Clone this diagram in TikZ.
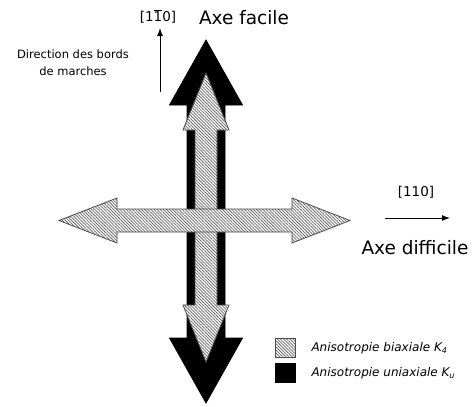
\documentclass[tikz,border=0pt]{standalone}
\usepackage{fontspec}
\setmainfont{DejaVu Sans}
\usetikzlibrary{arrows.meta,patterns.meta}

% double arrow along y, centred on the origin of the current scope
% #1 style, #2 half length, #3 half shaft, #4 half head, #5 head length
\newcommand{\dblarrow}[5]{%
  \draw[#1] (0,-#2) -- (#4,-#2+#5) -- (#3,-#2+#5) -- (#3,#2-#5) -- (#4,#2-#5)
    -- (0,#2) -- (-#4,#2-#5) -- (-#3,#2-#5) -- (-#3,-#2+#5) -- (-#4,-#2+#5) -- cycle;}
\newcommand{\barone}{$\overline{\mbox{1}}$}

\tikzset{
  uniax/.style={fill=black,draw=black,line width=0.8pt,line join=miter},
  biax/.style={draw=black!70,line width=0.8pt,preaction={fill=white},
    pattern={Lines[angle=-45,distance=2.2pt,line width=0.75pt]},pattern color=black!60},
  dirarrow/.style={-{Latex[length=8pt,width=6pt]},line width=1pt},
  axelabel/.style={font=\fontsize{18.5}{22}\selectfont},
  millerlabel/.style={font=\fontsize{13.5}{16}\selectfont},
  legendtext/.style={anchor=west,font=\fontsize{12}{14}\selectfont\itshape}
}

\begin{document}
\begin{tikzpicture}[x=1pt,y=-1pt]
    \useasboundingbox[fill=white] (0,0) rectangle (474,407);

    % uniaxial anisotropy (black) below the biaxial one
    \begin{scope}[shift={(206,221.5)}]
        \dblarrow{uniax}{181.5}{19}{36.5}{65}
    \end{scope}
    \begin{scope}[shift={(206,217.5)}]
        \dblarrow{biax}{144.5}{11}{23}{57}
    \end{scope}
    \begin{scope}[shift={(204.5,220.5)},rotate=90]
        \dblarrow{biax}{145.5}{11.5}{22.5}{58}
    \end{scope}

    % easy axis
    \node[millerlabel] (easydir) at (158,16) {[1\barone0]};
    \node[axelabel] (easy) at (244,18) {Axe facile};
    \node[align=center,font=\fontsize{11.5}{17}\selectfont] (steps) at (73,63)
        {Direction des bords\\de marches};
    \coordinate (easyfoot) at (160,92);
    \coordinate (easytip) at (160,28);
    \draw[dirarrow] (easyfoot) -- (easytip);

    % hard axis
    \node[millerlabel] (harddir) at (416,192) {[110]};
    \node[axelabel] (hard) at (415,248) {Axe difficile};
    \coordinate (hardfoot) at (385,218);
    \coordinate (hardtip) at (450,218);
    \draw[dirarrow] (hardfoot) -- (hardtip);

    % legend
    \draw[biax] (275,338) rectangle (295,357);
    \draw[uniax] (275,363) rectangle (295,382);
    \node[legendtext] (biaxtext) at (308,348) {Anisotropie biaxiale K\textsubscript{4}};
    \node[legendtext] (uniaxtext) at (308,373) {Anisotropie uniaxiale K\textsubscript{u}};
\end{tikzpicture}
\end{document}
